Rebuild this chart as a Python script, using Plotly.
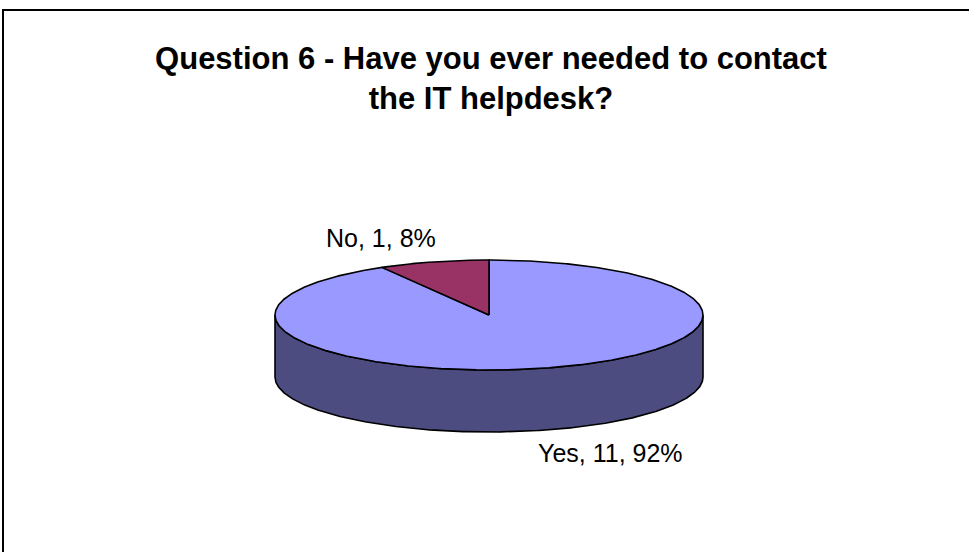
import numpy as np
import plotly.graph_objects as go

# Survey answers
answers = ["Yes", "No"]
counts = [11, 1]

# Slice colours: top face and darker wall
top_colors = ["#9999FF", "#993366"]
wall_colors = ["#4C4C80", "#4D1A33"]

title_lines = ["Question 6 - Have you ever needed to contact", "the IT helpdesk?"]

# Canvas and pie geometry (pixel space, y grows downward)
W, H = 969, 552
CX, CY = 489, 315          # centre of the top face
RX, RY = 214, 55           # ellipse radii of the tilted disc
DEPTH = 62                 # thickness of the disc
START = 90.0               # first slice starts at 12 o'clock, runs clockwise
FONT = "Arial, Liberation Sans, sans-serif"


def rim(theta_deg, drop=0.0):
    t = np.radians(theta_deg)
    return CX + RX * np.cos(t), CY - RY * np.sin(t) + drop


total = float(sum(counts))
fracs = [c / total for c in counts]
bounds = [START]
for f in fracs:
    bounds.append(bounds[-1] - 360.0 * f)

fig = go.Figure()

# Visible (front) walls of each slice
for i in range(len(counts)):
    a0, a1 = bounds[i], bounds[i + 1]
    t = np.linspace(a0, a1, 721)
    front = np.sin(np.radians(t)) <= 1e-9
    runs, cur = [], []
    for ti, ok in zip(t, front):
        if ok:
            cur.append(ti)
        elif cur:
            runs.append(cur)
            cur = []
    if cur:
        runs.append(cur)
    for run in runs:
        run = np.array(run)
        xt, yt = rim(run)
        xb, yb = rim(run[::-1], DEPTH)
        xs = np.concatenate([xt, xb, xt[:1]])
        ys = np.concatenate([yt, yb, yt[:1]])
        fig.add_trace(go.Scatter(
            x=xs, y=ys, mode="lines", fill="toself",
            fillcolor=wall_colors[i], line=dict(color="black", width=1.6),
            hoverinfo="skip", showlegend=False))

# Top faces
for i in range(len(counts)):
    a0, a1 = bounds[i], bounds[i + 1]
    t = np.linspace(a0, a1, 721)
    xa, ya = rim(t)
    xs = np.concatenate([[CX], xa, [CX]])
    ys = np.concatenate([[CY], ya, [CY]])
    fig.add_trace(go.Scatter(
        x=xs, y=ys, mode="lines", fill="toself",
        fillcolor=top_colors[i], line=dict(color="black", width=1.6),
        hoverinfo="skip", showlegend=False, name=answers[i]))

# Data labels placed just outside the rim at each slice's mid-angle
annotations = []
for i in range(len(counts)):
    mid = (bounds[i] + bounds[i + 1]) / 2.0
    s, c = np.sin(np.radians(mid)), np.cos(np.radians(mid))
    drop = DEPTH if s < 0 else 0.0
    x, y = rim(mid, drop)
    pct = round(100 * fracs[i])
    annotations.append(dict(
        x=x, y=y, xref="x", yref="y",
        text=f"{answers[i]}, {counts[i]}, {pct}%",
        showarrow=False,
        xanchor="right" if c < 0 else "left",
        yanchor="bottom" if s > 0 else "top",
        xshift=4 if c < 0 else -8,
        yshift=8 if s > 0 else -7,
        font=dict(family=FONT, size=25, color="black")))

fig.update_layout(
    width=W, height=H,
    margin=dict(l=0, r=0, t=0, b=0),
    paper_bgcolor="white", plot_bgcolor="white",
    title=dict(
        text="<b>" + "<br>".join(title_lines) + "</b>",
        x=491 / W, xanchor="center",
        y=1 - 69 / H, yanchor="top",
        font=dict(family=FONT, size=31, color="black")),
    xaxis=dict(range=[0, W], visible=False, fixedrange=True),
    yaxis=dict(range=[H, 0], visible=False, fixedrange=True),
    annotations=annotations,
    shapes=[dict(type="rect", xref="x", yref="y", x0=3, y0=10, x1=W + 20, y1=H + 20,
                 line=dict(color="black", width=2), fillcolor="rgba(0,0,0,0)", layer="below")],
)

fig.write_html("out.html")
